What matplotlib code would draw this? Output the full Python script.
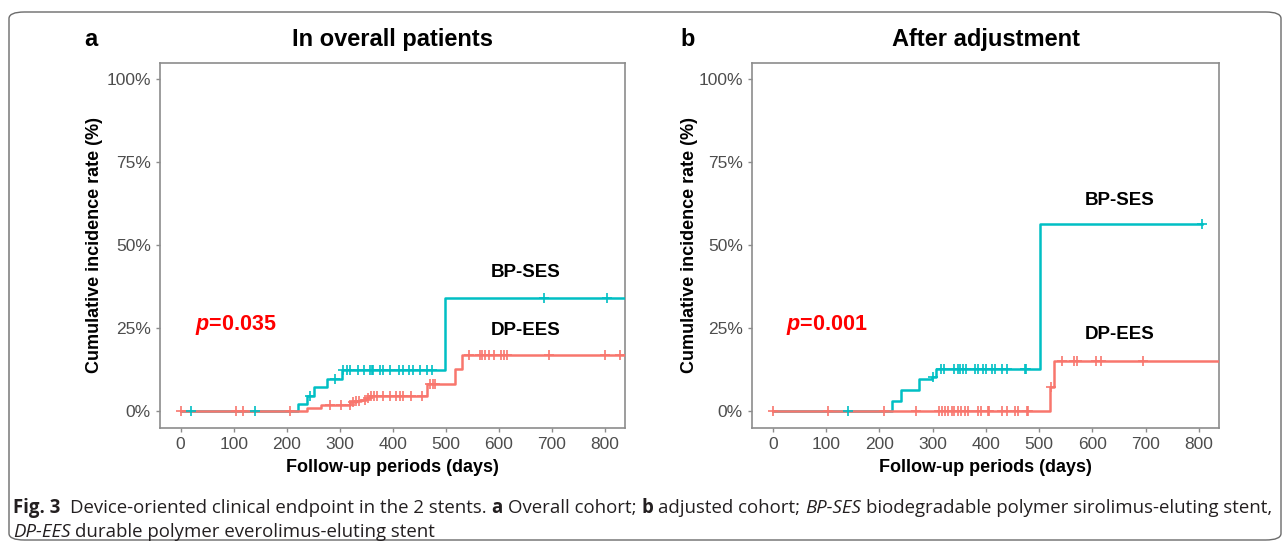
import numpy as np
import matplotlib
matplotlib.use("Agg")
import matplotlib.pyplot as plt
from matplotlib.patches import FancyBboxPatch
from matplotlib import font_manager

# ---- data ----
# panel a: overall patients
bp_t_a = [0, 222, 238, 252, 276, 304, 499]
bp_y_a = [0, 2.2, 4.5, 7.1, 9.6, 12.3, 34.2]
bp_end_a = 860
bp_cens_a = [19, 140, 243, 291, 307, 313, 319, 335, 345, 357, 360, 363, 376, 382,
             395, 411, 420, 430, 439, 452, 464, 474, 685, 804]

dp_t_a = [0, 238, 265, 320, 330, 340, 350, 358, 464, 518, 530]
dp_y_a = [0, 0.9, 1.7, 2.6, 3.0, 3.4, 3.9, 4.5, 8.1, 12.6, 16.8]
dp_end_a = 860
dp_cens_a = [0, 104, 118, 206, 282, 303, 319, 325, 331, 337, 347, 353, 359, 365, 370,
             382, 395, 407, 413, 420, 434, 455, 470, 476, 480, 543, 564, 568, 574,
             582, 590, 604, 609, 615, 694, 801, 828]

# panel b: after adjustment
bp_t_b = [0, 224, 240, 275, 299, 307, 501]
bp_y_b = [0, 3.0, 6.2, 9.5, 10.3, 12.8, 56.5]
bp_end_b = 806
bp_cens_b = [142, 301, 316, 322, 341, 347, 352, 357, 363, 379, 385, 395, 401, 411,
             417, 430, 439, 473, 476, 806]

dp_t_b = [0, 520, 529]
dp_y_b = [0, 7.2, 15.0]
dp_end_b = 860
dp_cens_b = [0, 103, 208, 269, 313, 318, 324, 330, 336, 341, 347, 353, 361, 366, 385,
             391, 404, 407, 430, 439, 455, 461, 477, 480, 522, 544, 566, 572, 607,
             617, 696]

x_ticks = [0, 100, 200, 300, 400, 500, 600, 700, 800]
y_ticks = [0, 25, 50, 75, 100]

teal = "#00BFC4"
salmon = "#F8766D"

plt.rcParams["font.family"] = ["Liberation Sans", "DejaVu Sans"]
plt.rcParams["mathtext.fontset"] = "custom"
plt.rcParams["mathtext.rm"] = "Liberation Sans"
plt.rcParams["mathtext.it"] = "Liberation Sans:italic"
plt.rcParams["mathtext.bf"] = "Liberation Sans:bold"
plt.rcParams["mathtext.bfit"] = "Liberation Sans:italic:bold"

W, H = 1284, 544
fig = plt.figure(figsize=(W / 100, H / 100), dpi=100)


def px_box(left, top, right, bottom):
    return [left / W, 1 - bottom / H, (right - left) / W, (bottom - top) / H]


def draw_curve(ax, t, y, end, cens, color):
    tt = list(t) + [end]
    yy = list(y) + [y[-1]]
    ax.step(tt, yy, where="post", color=color, lw=1.8, zorder=3)
    idx = np.searchsorted(t, cens, side="right") - 1
    cy = np.array(y)[idx]
    ax.plot(cens, cy, ls="none", marker="+", ms=7, mew=1.2, color=color, zorder=4)


def setup(ax, title, letter, letter_x, ylab_x):
    ax.set_xlim(-39, 838)
    ax.set_ylim(-5, 105)
    ax.set_xticks(x_ticks)
    ax.set_yticks(y_ticks)
    ax.set_yticklabels([f"{v}%" for v in y_ticks])
    for s in ax.spines.values():
        s.set_color("#8c8c8c")
        s.set_linewidth(1.2)
    ax.tick_params(colors="#8c8c8c", labelcolor="#4D4D4D", labelsize=12.5,
                   length=3, width=1)
    ax.set_ylabel("Cumulative incidence rate (%)", fontsize=13, fontweight="bold",
                  va="center")
    ax.yaxis.set_label_coords(ylab_x, 0.5)
    ax.set_xlabel("Follow-up periods (days)", fontsize=13, fontweight="bold",
                  va="center")
    ax.xaxis.set_label_coords(0.5, -0.108)
    ax.set_title(title, fontsize=17, fontweight="bold", pad=12)
    fig.text(letter_x / W, 1 - 40 / H, letter, fontsize=17, fontweight="bold",
             ha="center", va="center")


ax1 = fig.add_axes(px_box(160, 62.7, 625, 427.6))
draw_curve(ax1, bp_t_a, bp_y_a, bp_end_a, bp_cens_a, teal)
draw_curve(ax1, dp_t_a, dp_y_a, dp_end_a, dp_cens_a, salmon)
setup(ax1, "In overall patients", "a", 91, -0.14)
ax1.text(27, 25.8, r"$\bfit{p}$" + "=0.035", color="red", fontsize=15.5,
         fontweight="bold", va="center")
ax1.text(650, 41.7, "BP-SES", fontsize=13.5, fontweight="bold", ha="center", va="center")
ax1.text(650, 24.3, "DP-EES", fontsize=13.5, fontweight="bold", ha="center", va="center")

ax2 = fig.add_axes(px_box(752, 62.7, 1219, 427.6))
draw_curve(ax2, bp_t_b, bp_y_b, bp_end_b, bp_cens_b, teal)
draw_curve(ax2, dp_t_b, dp_y_b, dp_end_b, dp_cens_b, salmon)
setup(ax2, "After adjustment", "b", 688, -0.133)
ax2.text(24, 25.8, r"$\bfit{p}$" + "=0.001", color="red", fontsize=15.5,
         fontweight="bold", va="center")
ax2.text(651, 63.4, "BP-SES", fontsize=13.5, fontweight="bold", ha="center", va="center")
ax2.text(651, 23.0, "DP-EES", fontsize=13.5, fontweight="bold", ha="center", va="center")

# outer rounded frame
frame = FancyBboxPatch((9 / W, 4 / H), (1272 / W), (528 / H),
                       boxstyle="round,pad=0,rounding_size=0.012",
                       transform=fig.transFigure, fill=False,
                       edgecolor="#6b6b6b", lw=1.0)
fig.patches.append(frame)

# caption with mixed styles
names = {f.name for f in font_manager.fontManager.ttflist}
cap_font = "Liberation Sans Narrow" if "Liberation Sans Narrow" in names else "Open Sans"

line1 = [("Fig. 3", "bold", "normal"),
         ("  Device-oriented clinical endpoint in the 2 stents. ", "normal", "normal"),
         ("a", "bold", "normal"), (" Overall cohort; ", "normal", "normal"),
         ("b", "bold", "normal"), (" adjusted cohort; ", "normal", "normal"),
         ("BP-SES", "normal", "italic"),
         (" biodegradable polymer sirolimus-eluting stent,", "normal", "normal")]
line2 = [("DP-EES", "normal", "italic"),
         (" durable polymer everolimus-eluting stent", "normal", "normal")]

renderer = fig.canvas.get_renderer()


def measure(s, size, weight, style):
    t = fig.text(0, 0, s, fontsize=size, fontweight=weight, fontstyle=style,
                 family=cap_font)
    w = t.get_window_extent(renderer).width
    t.remove()
    return w


def line_width(segs, size):
    sp = measure("x x", size, "normal", "normal") - measure("xx", size, "normal", "normal")
    total = 0
    for s, wt, st in segs:
        core = s.strip()
        total += (len(s) - len(s.lstrip())) * sp
        total += measure(core, size, wt, st)
        total += (len(s) - len(s.rstrip())) * sp
    return total, sp


def draw_line(segs, size, x0, y0):
    _, sp = line_width(segs, size)
    x = x0
    for s, wt, st in segs:
        core = s.strip()
        x += (len(s) - len(s.lstrip())) * sp
        t = fig.text(x / W, 1 - y0 / H, core, fontsize=size, fontweight=wt,
                     fontstyle=st, family=cap_font, va="baseline", color="#231f20")
        x += t.get_window_extent(renderer).width
        x += (len(s) - len(s.rstrip())) * sp


w10, _ = line_width(line1, 10)
cap_size = 10 * 1256 / w10
draw_line(line1, cap_size, 13, 513)
draw_line(line2, cap_size, 13, 537)

fig.savefig("out.png", dpi=100)
